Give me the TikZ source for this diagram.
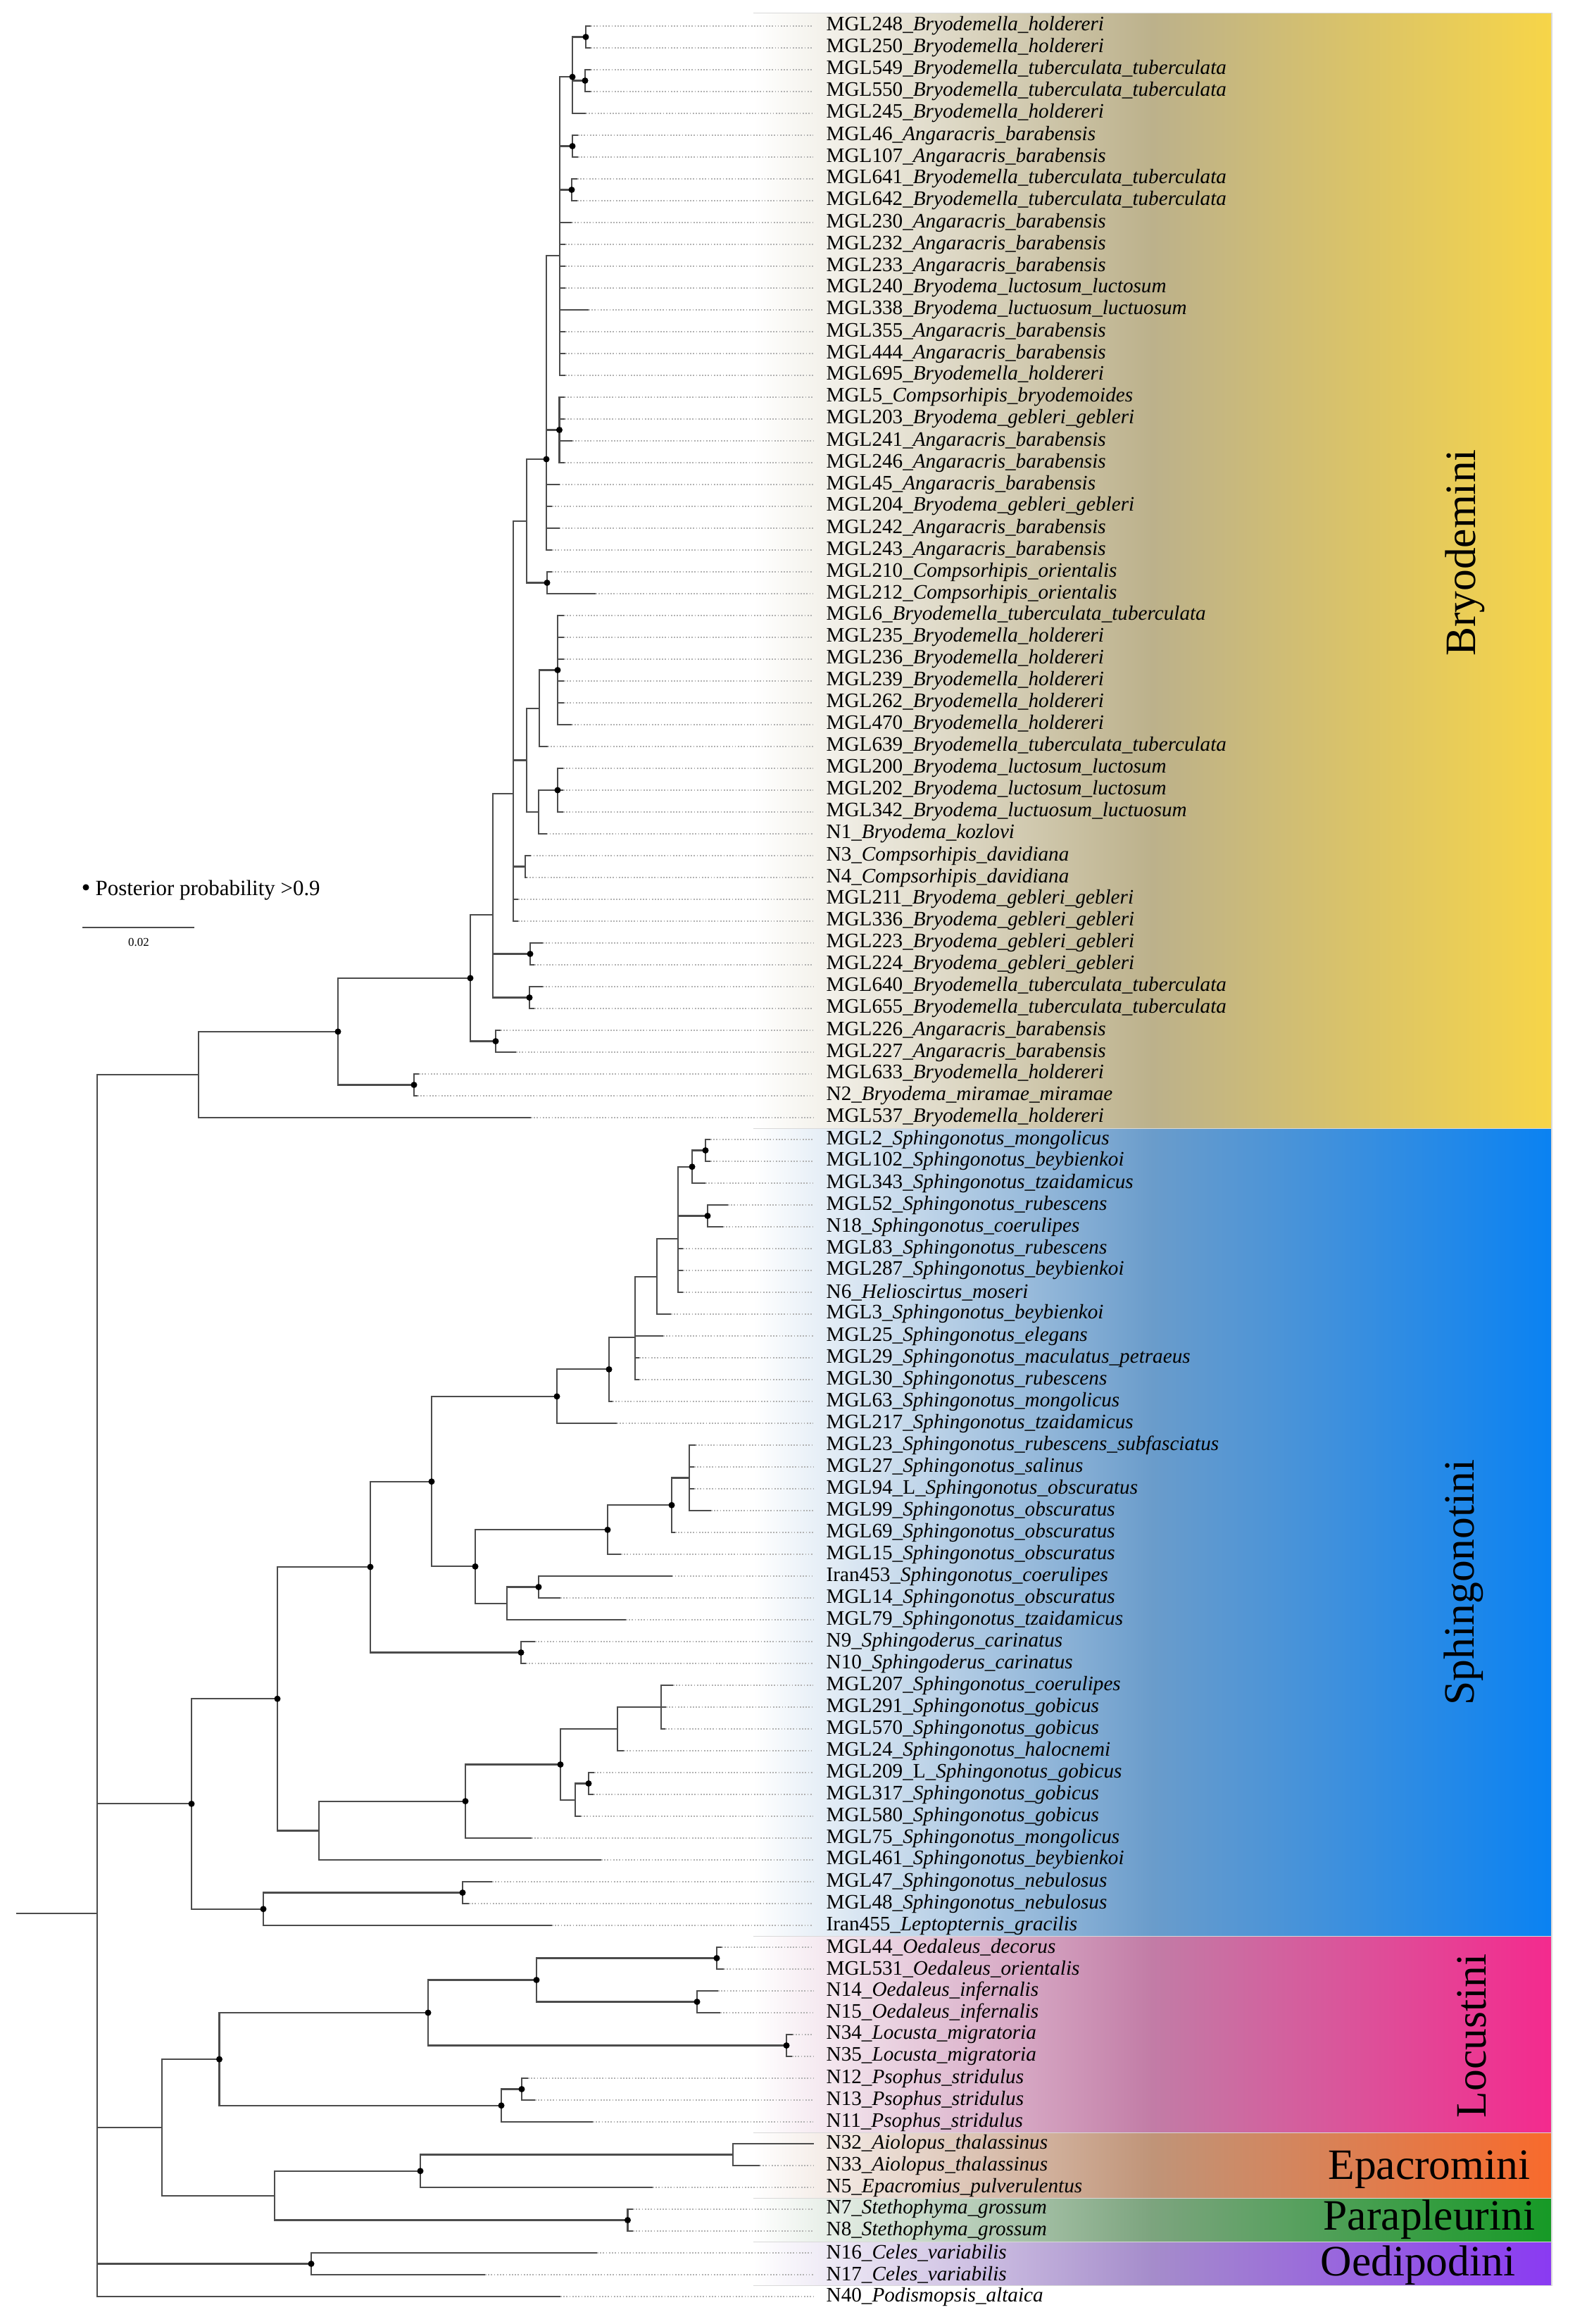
\documentclass[tikz,border=0pt]{standalone}
\usepackage{fontspec}
\setmainfont{Liberation Serif}
\usepackage{xcolor}
\usepackage{tikz}

\definecolor{bryoR}{HTML}{F7D548}
\definecolor{bryoM}{HTML}{BCB18B}
\definecolor{sphiR}{HTML}{0A82F2}
\definecolor{sphiM}{HTML}{6A9CCB}
\definecolor{locuR}{HTML}{F42A8E}
\definecolor{locuM}{HTML}{C27CA6}
\definecolor{epacR}{HTML}{F86A2C}
\definecolor{epacM}{HTML}{C09478}
\definecolor{paraR}{HTML}{169A26}
\definecolor{paraM}{HTML}{7CA47E}
\definecolor{oediR}{HTML}{8A3AF2}
\definecolor{oediM}{HTML}{A58CCB}

\begin{document}
\begin{tikzpicture}[x=1cm, y=-0.31cm,
  branch/.style={draw=black!70, line width=0.6pt},
  leader/.style={draw=black!30, line width=0.4pt, dash pattern=on 0.5pt off 0.7pt},
  post/.style={circle, fill=black, inner sep=0pt, minimum size=0.09cm},
  taxon/.style={anchor=west, inner xsep=0.18cm, inner ysep=0pt, font=\fontsize{8.3}{9}\selectfont},
  tribe/.style={font=\fontsize{17.5}{20}\selectfont, inner sep=0pt}]
\useasboundingbox (0cm,0.06cm) rectangle (22.36cm,-32.94cm);

% tribe bands
\foreach \top/\bot/\m/\c in {0.4/51.5/bryoM/bryoR, 51.5/88.5/sphiM/sphiR, 88.5/97.5/locuM/locuR,
    97.5/100.5/epacM/epacR, 100.5/102.5/paraM/paraR, 102.5/104.5/oediM/oediR} {
  \shade[left color=white, right color=\c, middle color=\m] (10.70,\top) rectangle (22.04,\bot);
  \draw[black!15, line width=0.4pt] (10.70,\top) -- (22.04,\top) -- (22.04,\bot) -- (10.70,\bot);
}
\node[tribe, rotate=90] (bryo) at (20.81,25.13) {Bryodemini};
\node[tribe, rotate=90] (sphi) at (20.79,72.29) {Sphingonotini};
\node[tribe, rotate=90] (locu) at (20.90,93.06) {Locustini};
\node[tribe] (epac) at (20.30,99.19) {Epacromini};
\node[tribe] (para) at (20.30,101.47) {Parapleurini};
\node[tribe] (oedi) at (20.14,103.56) {Oedipodini};

% leaves: row / tip / code / taxon
\foreach \i/\tip/\tcode/\taxname in {
  1/8.39/MGL248/Bryodemella\_holdereri, 2/8.39/MGL250/Bryodemella\_holdereri,
  3/8.39/MGL549/Bryodemella\_tuberculata\_tuberculata, 4/8.39/MGL550/Bryodemella\_tuberculata\_tuberculata,
  5/8.32/MGL245/Bryodemella\_holdereri, 6/8.21/MGL46/Angaracris\_barabensis,
  7/8.21/MGL107/Angaracris\_barabensis, 8/8.20/MGL641/Bryodemella\_tuberculata\_tuberculata,
  9/8.20/MGL642/Bryodemella\_tuberculata\_tuberculata, 10/8.12/MGL230/Angaracris\_barabensis,
  11/8.03/MGL232/Angaracris\_barabensis, 12/8.03/MGL233/Angaracris\_barabensis,
  13/8.03/MGL240/Bryodema\_luctosum\_luctosum, 14/8.36/MGL338/Bryodema\_luctuosum\_luctuosum,
  15/8.03/MGL355/Angaracris\_barabensis, 16/8.03/MGL444/Angaracris\_barabensis,
  17/8.03/MGL695/Bryodemella\_holdereri, 18/8.02/MGL5/Compsorhipis\_bryodemoides,
  19/8.02/MGL203/Bryodema\_gebleri\_gebleri, 20/8.13/MGL241/Angaracris\_barabensis,
  21/8.02/MGL246/Angaracris\_barabensis, 22/7.945/MGL45/Angaracris\_barabensis,
  23/7.84/MGL204/Bryodema\_gebleri\_gebleri, 24/7.945/MGL242/Angaracris\_barabensis,
  25/7.84/MGL243/Angaracris\_barabensis, 26/7.84/MGL210/Compsorhipis\_orientalis,
  27/8.46/MGL212/Compsorhipis\_orientalis, 28/8.01/MGL6/Bryodemella\_tuberculata\_tuberculata,
  29/8.01/MGL235/Bryodemella\_holdereri, 30/8.01/MGL236/Bryodemella\_holdereri,
  31/8.01/MGL239/Bryodemella\_holdereri, 32/8.01/MGL262/Bryodemella\_holdereri,
  33/8.12/MGL470/Bryodemella\_holdereri, 34/7.78/MGL639/Bryodemella\_tuberculata\_tuberculata,
  35/8.00/MGL200/Bryodema\_luctosum\_luctosum, 36/8.00/MGL202/Bryodema\_luctosum\_luctosum,
  37/8.00/MGL342/Bryodema\_luctuosum\_luctuosum, 38/7.765/N1/Bryodema\_kozlovi,
  39/7.535/N3/Compsorhipis\_davidiana, 40/7.48/N4/Compsorhipis\_davidiana,
  41/7.36/MGL211/Bryodema\_gebleri\_gebleri, 42/7.36/MGL336/Bryodema\_gebleri\_gebleri,
  43/7.71/MGL223/Bryodema\_gebleri\_gebleri, 44/7.59/MGL224/Bryodema\_gebleri\_gebleri,
  45/7.71/MGL640/Bryodemella\_tuberculata\_tuberculata, 46/7.59/MGL655/Bryodemella\_tuberculata\_tuberculata,
  47/7.11/MGL226/Angaracris\_barabensis, 48/7.33/MGL227/Angaracris\_barabensis,
  49/5.95/MGL633/Bryodemella\_holdereri, 50/5.93/N2/Bryodema\_miramae\_miramae,
  51/7.54/MGL537/Bryodemella\_holdereri,
  52/10.09/MGL2/Sphingonotus\_mongolicus, 53/10.09/MGL102/Sphingonotus\_beybienkoi,
  54/10.02/MGL343/Sphingonotus\_tzaidamicus, 55/10.34/MGL52/Sphingonotus\_rubescens,
  56/10.27/N18/Sphingonotus\_coerulipes, 57/9.70/MGL83/Sphingonotus\_rubescens,
  58/9.70/MGL287/Sphingonotus\_beybienkoi, 59/9.70/N6/Helioscirtus\_moseri,
  60/9.53/MGL3/Sphingonotus\_beybienkoi, 61/9.42/MGL25/Sphingonotus\_elegans,
  62/9.08/MGL29/Sphingonotus\_maculatus\_petraeus, 63/9.08/MGL30/Sphingonotus\_rubescens,
  64/8.70/MGL63/Sphingonotus\_mongolicus, 65/8.76/MGL217/Sphingonotus\_tzaidamicus,
  66/9.88/MGL23/Sphingonotus\_rubescens\_subfasciatus, 67/9.86/MGL27/Sphingonotus\_salinus,
  68/9.86/MGL94\_L/Sphingonotus\_obscuratus, 69/10.10/MGL99/Sphingonotus\_obscuratus,
  70/9.59/MGL69/Sphingonotus\_obscuratus, 71/8.82/MGL15/Sphingonotus\_obscuratus,
  72/9.545/Iran453/Sphingonotus\_coerulipes, 73/7.96/MGL14/Sphingonotus\_obscuratus,
  74/8.89/MGL79/Sphingonotus\_tzaidamicus, 75/7.60/N9/Sphingoderus\_carinatus,
  76/7.47/N10/Sphingoderus\_carinatus, 77/9.56/MGL207/Sphingonotus\_coerulipes,
  78/9.46/MGL291/Sphingonotus\_gobicus, 79/9.45/MGL570/Sphingonotus\_gobicus,
  80/8.86/MGL24/Sphingonotus\_halocnemi, 81/8.44/MGL209\_L/Sphingonotus\_gobicus,
  82/8.43/MGL317/Sphingonotus\_gobicus, 83/8.25/MGL580/Sphingonotus\_gobicus,
  84/7.55/MGL75/Sphingonotus\_mongolicus, 85/8.54/MGL461/Sphingonotus\_beybienkoi,
  86/6.99/MGL47/Sphingonotus\_nebulosus, 87/6.66/MGL48/Sphingonotus\_nebulosus,
  88/7.84/Iran455/Leptopternis\_gracilis,
  89/10.25/MGL44/Oedaleus\_decorus, 90/10.28/MGL531/Oedaleus\_orientalis,
  91/10.20/N14/Oedaleus\_infernalis, 92/10.23/N15/Oedaleus\_infernalis,
  93/11.26/N34/Locusta\_migratoria, 94/11.25/N35/Locusta\_migratoria,
  95/7.50/N12/Psophus\_stridulus, 96/7.60/N13/Psophus\_stridulus,
  97/8.42/N11/Psophus\_stridulus, 98/11.56/N32/Aiolopus\_thalassinus,
  99/10.79/N33/Aiolopus\_thalassinus, 100/9.27/N5/Epacromius\_pulverulentus,
  101/8.99/N7/Stethophyma\_grossum, 102/8.99/N8/Stethophyma\_grossum,
  103/8.48/N16/Celes\_variabilis, 104/6.89/N17/Celes\_variabilis,
  105/7.96/N40/Podismopsis\_altaica} {
  \coordinate (t\i) at (\tip,\i);
  \node[taxon] (l\i) at (11.55,\i) {\tcode\_\textit{\taxname}};
  \draw[leader] (t\i) -- (l\i.west);
}

% internal nodes
\foreach \n/\x/\y in {r/1.38/87.44,
  b0/2.82/49.03, b1/4.80/47.06, p4950/5.88/49.5, b2/6.68/44.61, p4748/7.04/47.5, b3/7.00/41.72,
  p4344/7.53/43.5, p4546/7.52/45.5, e/7.29/36.16, p3940/7.46/39.5, d/7.48/34.63, g/7.66/32.25,
  six/7.92/30.5, h/7.65/37, k/7.92/36, c/7.48/23.67, p2627/7.77/26.5, b5/7.76/20.84,
  q/7.945/19.5, a/7.95/11.53, n15/8.13/3.33, p12/8.32/1.5, p34/8.31/3.5, p67/8.13/6.5, p89/8.12/8.5,
  s0/2.72/82.43, sl/3.74/87.25, p8687/6.57/86.5, s1/3.94/77.62, s3/4.53/83.66, s4/6.61/82.31,
  s5/7.96/80.63, s6/8.77/79, s6a/9.39/78, s7/8.17/82.25, p8182/8.36/81.5, s2/5.26/71.58,
  p7576/7.40/75.5, s8/6.13/67.67, s10/7.91/63.77, s12/8.65/62.53, s13/9.02/61.07, s14/9.33/58.28,
  s15/9.63/56.55, s16/9.83/53.25, p5253/10.02/52.5, p5556/10.05/55.5, s11/6.75/71.56,
  s17/8.63/69.88, s19/9.54/68.75, s20/9.79/67.5, s18/7.20/73.25, s21/7.65/72.5,
  l0/2.30/97.25, l1/3.115/94.13, l3/6.08/92, l5/7.62/90.5, p8990/10.18/89.5, p9192/9.90/91.5,
  p9394/11.17/93.5, l4/7.12/96.25, p9596/7.41/95.5, l2/3.90/100.38, l6/5.97/99.25,
  p9899/10.41/98.5, p101/8.915/101.5, o1/4.42/103.5}
  \coordinate (\n) at (\x,\y);

\coordinate (rt) at (0.23,87.44);
\draw[branch] (rt) -- (r);

% branches
\foreach \p/\ch in {r/b0, r/s0, r/l0, r/o1, r/t105,
  b0/b1, b0/t51, b1/b2, b1/p4950, p4950/t49, p4950/t50, b2/b3, b2/p4748, p4748/t47, p4748/t48,
  b3/e, b3/p4344, b3/p4546, p4344/t43, p4344/t44, p4546/t45, p4546/t46,
  e/c, e/d, e/p3940, e/t41, e/t42, p3940/t39, p3940/t40, d/g, d/h, g/six, g/t34,
  six/t28, six/t29, six/t30, six/t31, six/t32, six/t33, h/k, h/t38, k/t35, k/t36, k/t37,
  c/b5, c/p2627, p2627/t26, p2627/t27, b5/a, b5/q, b5/t22, b5/t23, b5/t24, b5/t25,
  q/t18, q/t19, q/t20, q/t21, a/n15, a/p67, a/p89, a/t10, a/t11, a/t12, a/t13, a/t14, a/t15,
  a/t16, a/t17, n15/p12, n15/p34, n15/t5, p12/t1, p12/t2, p34/t3, p34/t4, p67/t6, p67/t7,
  p89/t8, p89/t9,
  s0/s1, s0/sl, sl/p8687, sl/t88, p8687/t86, p8687/t87, s1/s2, s1/s3, s3/s4, s3/t85,
  s4/s5, s4/t84, s5/s6, s5/s7, s6/s6a, s6/t80, s6a/t77, s6a/t78, s6a/t79, s7/p8182, s7/t83,
  p8182/t81, p8182/t82, s2/s8, s2/p7576, p7576/t75, p7576/t76, s8/s10, s8/s11,
  s10/s12, s10/t65, s12/s13, s12/t64, s13/s14, s13/t61, s13/t62, s13/t63, s14/s15, s14/t60,
  s15/s16, s15/p5556, s15/t57, s15/t58, s15/t59, s16/p5253, s16/t54, p5253/t52, p5253/t53,
  p5556/t55, p5556/t56, s11/s17, s11/s18, s17/s19, s17/t71, s19/s20, s19/t70,
  s20/t66, s20/t67, s20/t68, s20/t69, s18/s21, s18/t74, s21/t72, s21/t73,
  l0/l1, l0/l2, l1/l3, l1/l4, l3/l5, l3/p9394, l5/p8990, l5/p9192, p8990/t89, p8990/t90,
  p9192/t91, p9192/t92, p9394/t93, p9394/t94, l4/p9596, l4/t97, p9596/t95, p9596/t96,
  l2/l6, l2/p101, l6/p9899, l6/t100, p9899/t98, p9899/t99, p101/t101, p101/t102,
  o1/t103, o1/t104}
  \draw[branch] (\p) |- (\ch);

% posterior probability > 0.9
\foreach \n in {b1, p4950, b2, p4748, p4344, p4546, six, k, p2627, b5, q, n15, p12, p34, p67, p89,
  s0, sl, p8687, s1, s4, s5, p8182, s2, p7576, s8, s10, s12, s16, p5253, p5556, s11, s17, s19, s21,
  l1, l3, l5, p8990, p9192, p9394, l4, p9596, l6, p101, o1}
  \node[post] at (\n) {};

% legend and scale
\node[post] (ppdot) at (1.22,40.45) {};
\node[anchor=west, inner xsep=0pt, font=\fontsize{8.8}{10}\selectfont] (pptext) at (1.35,40.6) {Posterior probability >0.9};
\coordinate (sbl) at (1.17,42.29);
\coordinate (sbr) at (2.76,42.29);
\draw[branch, line width=0.8pt] (sbl) -- (sbr);
\node[font=\fontsize{4.8}{5}\selectfont] (sblab) at (1.97,42.97) {0.02};
\end{tikzpicture}
\end{document}
